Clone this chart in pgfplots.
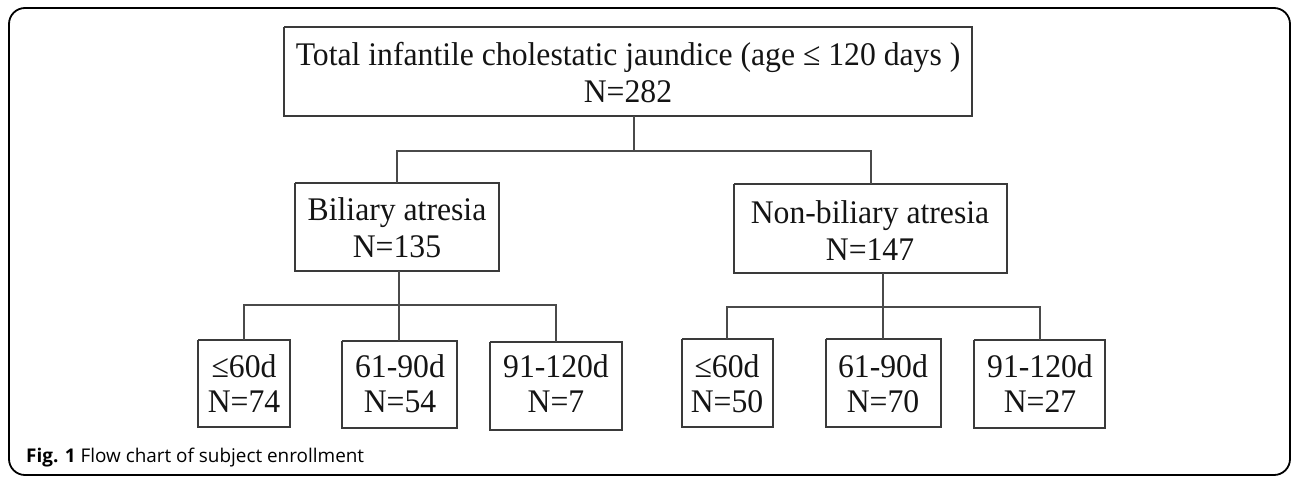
\documentclass[border=0pt]{standalone}
\usepackage{fontspec}
\setmainfont{Liberation Serif}
\newfontfamily\capfont{Open Sans}
\usepackage{pgfplots}
\pgfplotsset{compat=1.18}
\definecolor{boxc}{HTML}{3A3A3A}
\definecolor{linec}{HTML}{4A4A4A}
\tikzset{lbl/.style={anchor=base, inner sep=0pt, xscale=0.96, text=black!92, font=\fontsize{33}{38}\selectfont}}
\begin{document}
\begin{tikzpicture}
\begin{axis}[
  scale only axis, width=1292pt, height=477pt,
  xmin=0, xmax=1292, ymin=0, ymax=477, y dir=reverse,
  hide axis, clip=false,
  every axis plot/.append style={line join=miter},
]
% bounding frame
\addplot[draw=none, forget plot] coordinates {(0,0) (1292,477)};
% outer rounded border
\addplot[black, line width=1.8pt, rounded corners=16pt] coordinates {(649,475) (9,475) (9,8) (1290,8) (1290,475) (640,475)};
% boxes
\addplot[boxc, line width=1.7pt] coordinates {(284,27) (972,27) (972,116) (284,116) (284,27)};
\addplot[boxc, line width=1.7pt] coordinates {(295,183) (499,183) (499,271) (295,271) (295,183)};
\addplot[boxc, line width=1.7pt] coordinates {(734,184) (1007,184) (1007,273) (734,273) (734,184)};
\addplot[boxc, line width=1.7pt] coordinates {(198,340) (290,340) (290,427) (198,427) (198,340)};
\addplot[boxc, line width=1.7pt] coordinates {(342,341) (457,341) (457,428) (342,428) (342,341)};
\addplot[boxc, line width=1.7pt] coordinates {(490,342) (622,342) (622,430) (490,430) (490,342)};
\addplot[boxc, line width=1.7pt] coordinates {(682,339) (773,339) (773,427) (682,427) (682,339)};
\addplot[boxc, line width=1.7pt] coordinates {(826,339) (941,339) (941,427) (826,427) (826,339)};
\addplot[boxc, line width=1.7pt] coordinates {(974,340) (1105,340) (1105,428) (974,428) (974,340)};
% connectors
\addplot[linec, line width=1.4pt] coordinates {(634,116) (634,151)};
\addplot[linec, line width=1.4pt] coordinates {(397,183) (397,151) (871,151) (871,184)};
\addplot[linec, line width=1.4pt] coordinates {(399,271) (399,341)};
\addplot[linec, line width=1.4pt] coordinates {(244,340) (244,305) (556,305) (556,342)};
\addplot[linec, line width=1.4pt] coordinates {(883,273) (883,339)};
\addplot[linec, line width=1.4pt] coordinates {(727,339) (727,307) (1040,307) (1040,340)};
% texts
\node[lbl] at (axis cs:628,65) {Total infantile cholestatic jaundice (age ≤ 120 days )};
\node[lbl] at (axis cs:628,102) {N=282};
\node[lbl] at (axis cs:397,220) {Biliary atresia};
\node[lbl] at (axis cs:397,257) {N=135};
\node[lbl] at (axis cs:870,223) {Non-biliary atresia};
\node[lbl] at (axis cs:870,260) {N=147};
\node[lbl] at (axis cs:244,377) {≤60d};
\node[lbl] at (axis cs:244,412) {N=74};
\node[lbl] at (axis cs:400,377) {61-90d};
\node[lbl] at (axis cs:400,412) {N=54};
\node[lbl] at (axis cs:556,377) {91-120d};
\node[lbl] at (axis cs:556,412) {N=7};
\node[lbl] at (axis cs:727,377) {≤60d};
\node[lbl] at (axis cs:727,412) {N=50};
\node[lbl] at (axis cs:883,377) {61-90d};
\node[lbl] at (axis cs:883,412) {N=70};
\node[lbl] at (axis cs:1040,377) {91-120d};
\node[lbl] at (axis cs:1040,412) {N=27};
\node[anchor=base west, inner sep=0pt, font=\capfont\fontsize{18.9}{22}\selectfont] at (axis cs:26,462) {\textbf{Fig. 1} Flow chart of subject enrollment};
\end{axis}
\end{tikzpicture}
\end{document}
